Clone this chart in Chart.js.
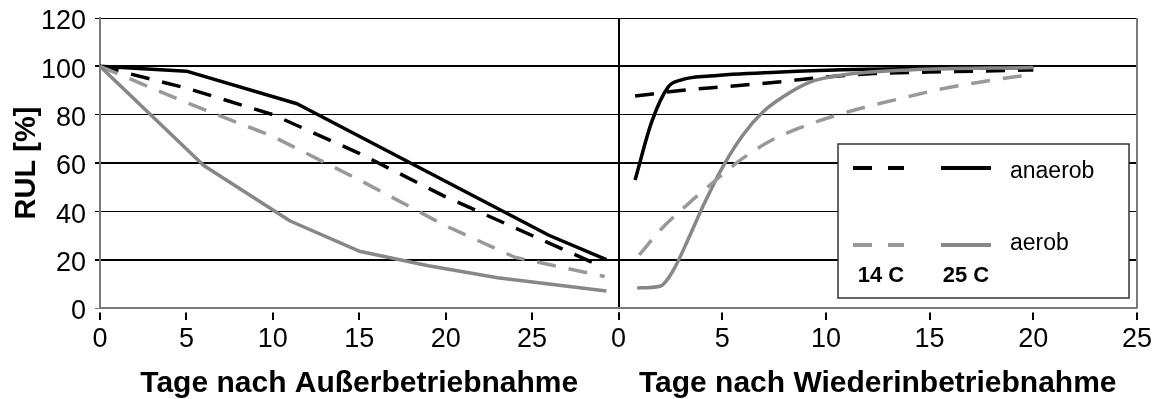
<!DOCTYPE html>
<html><head><meta charset="utf-8">
<script src="https://cdn.jsdelivr.net/npm/chart.js@4.4.1/dist/chart.umd.min.js"></script>
<style>html,body{margin:0;padding:0;background:#fff;overflow:hidden;}</style>
</head><body>
<canvas id="c" width="1152" height="399"></canvas>
<script>
// ---- axis / label data ----
const yRange = [0, 120];
const yStep = 20;
const leftRange = [0, 30];
const rightRange = [0, 25];
const xStep = 5;
const leftTitle = 'Tage nach Außerbetriebnahme';
const rightTitle = 'Tage nach Wiederinbetriebnahme';
const yTitle = 'RUL [%]';
const legendRows = ['anaerob', 'aerob'];
const legendTemps = ['14 C', '25 C'];

// ---- left panel: days after shutdown ----
const anaerob25L_x = [0, 5, 11.4, 26, 29.3];
const anaerob25L_y = [100, 98, 84.5, 30, 20];
const anaerob14L_x = [0, 5, 10, 15, 20, 25, 28.6];
const anaerob14L_y = [100, 91, 80, 64, 46, 30, 18.5];
const aerob14L_x = [0, 5, 10, 15, 20, 24, 29.2];
const aerob14L_y = [100, 85, 71, 53, 34, 21, 13];
const aerob25L_x = [0, 6, 11, 15, 19, 23, 29.3];
const aerob25L_y = [100, 59, 36, 23.5, 17.5, 12.5, 7];

// ---- right panel: days after restart ----
const anaerob25R_x = [0.8, 1.6, 2.4, 3.0, 4.4, 7.6, 12, 20];
const anaerob25R_y = [53, 77, 91.5, 94.3, 96, 97.6, 98.8, 99.5];
const anaerob14R_x = [0.8, 3, 5, 7.7, 9.5, 12.3, 16, 20];
const anaerob14R_y = [87.7, 90, 91.5, 93.5, 95.2, 97, 97.8, 98.5];
const aerob14R_x = [1.0, 2.1, 3.4, 4.7, 6, 7.4, 9.1, 10.8, 12.3, 13.9, 15.5, 17.1, 18.7, 20];
const aerob14R_y = [22, 33, 43.4, 53, 62, 69.5, 75.7, 80.5, 84, 87.3, 90.5, 93, 95.2, 96.5];
const aerob25R_x = [0.9, 2, 2.6, 3.3, 4.1, 5, 6, 6.95, 7.9, 9.2, 10.8, 14, 20];
const aerob25R_y = [8.3, 9, 15, 27.3, 42.6, 58, 71.6, 81, 87.2, 93.4, 96.4, 98.5, 99.5];

const BLACK = '#000000';
const GRAY_SOLID = '#878787';
const GRAY_DASH = '#999999';
const DASH = [19, 13];

function pts(xs, ys) { return xs.map((x, i) => ({x: x, y: ys[i]})); }
function ds(xs, ys, axis, color, dashed, smooth) {
  return {
    data: pts(xs, ys), xAxisID: axis, yAxisID: 'y',
    borderColor: color, borderWidth: 3.5, borderDash: dashed ? DASH : [],
    pointRadius: 0, showLine: true, fill: false,
    tension: 0, cubicInterpolationMode: smooth ? 'monotone' : 'default',
    borderCapStyle: 'butt', borderJoinStyle: 'round'
  };
}

const datasets = [
  ds(aerob25L_x, aerob25L_y, 'x1', GRAY_SOLID, false, false),
  ds(aerob14L_x, aerob14L_y, 'x1', GRAY_DASH, true, false),
  ds(anaerob14L_x, anaerob14L_y, 'x1', BLACK, true, false),
  ds(anaerob25L_x, anaerob25L_y, 'x1', BLACK, false, false),
  ds(aerob14R_x, aerob14R_y, 'x2', GRAY_DASH, true, true),
  ds(aerob25R_x, aerob25R_y, 'x2', GRAY_SOLID, false, true),
  ds(anaerob14R_x, anaerob14R_y, 'x2', BLACK, true, true),
  ds(anaerob25R_x, anaerob25R_y, 'x2', BLACK, false, true)
];

const FONT = "'Liberation Sans', Arial, sans-serif";

function xScale(range, title, dividerValue) {
  return {
    type: 'linear', position: 'bottom', stack: 'bottomStack', stackWeight: 1,
    min: range[0], max: range[1],
    ticks: {
      stepSize: xStep, autoSkip: false, maxRotation: 0, color: '#000',
      font: {family: FONT, size: 27}, padding: 3,
      callback: (v) => (dividerValue !== null && v === dividerValue) ? '' : String(v)
    },
    grid: {
      drawOnChartArea: true,
      color: (c) => (dividerValue !== null && c.tick && c.tick.value === dividerValue) ? '#000' : 'rgba(0,0,0,0)',
      lineWidth: 2, tickColor: '#000', tickWidth: 2, tickLength: 12,
      tickBorderDash: [0, 4, 100]
    },
    border: {display: true, color: '#7a7a7a', width: 1.5},
    title: {display: true, text: title, color: '#000',
      font: {family: FONT, size: 30, weight: 'bold', lineHeight: 1}, padding: {top: 0, bottom: 0}},
    afterFit: (s) => { s.height = 91; s.paddingLeft = 0; s.paddingRight = 0; }
  };
}

const framePlugin = {
  id: 'frame',
  beforeDatasetsDraw(chart) {
    const {ctx, chartArea: a} = chart;
    ctx.save();
    ctx.strokeStyle = '#7a7a7a';
    ctx.lineWidth = 2;
    ctx.beginPath();
    ctx.moveTo(a.right, a.top);
    ctx.lineTo(a.right, a.bottom);
    ctx.stroke();
    ctx.restore();
  }
};

const legendPlugin = {
  id: 'customLegend',
  afterDatasetsDraw(chart) {
    const {ctx, chartArea: a} = chart;
    const w = 291, h = 154;
    const right = a.right - 8, bottom = a.bottom - 10;
    const left = right - w, top = bottom - h;
    ctx.save();
    ctx.fillStyle = '#fff';
    ctx.fillRect(left, top, w, h);
    ctx.strokeStyle = '#333';
    ctx.lineWidth = 1.5;
    ctx.strokeRect(left, top, w, h);
    const rows = [
      {label: legendRows[0], dash: BLACK, solid: BLACK, lineY: top + 24, textY: top + 34},
      {label: legendRows[1], dash: GRAY_DASH, solid: GRAY_SOLID, lineY: top + 101, textY: top + 106}
    ];
    ctx.lineWidth = 4;
    ctx.lineCap = 'butt';
    rows.forEach(r => {
      ctx.strokeStyle = r.dash;
      ctx.setLineDash([19, 16]);
      ctx.beginPath(); ctx.moveTo(left + 15, r.lineY); ctx.lineTo(left + 66, r.lineY); ctx.stroke();
      ctx.setLineDash([]);
      ctx.strokeStyle = r.solid;
      ctx.beginPath(); ctx.moveTo(left + 103, r.lineY); ctx.lineTo(left + 153, r.lineY); ctx.stroke();
      ctx.fillStyle = '#000';
      ctx.font = '23px ' + FONT;
      ctx.textAlign = 'left';
      ctx.textBaseline = 'alphabetic';
      ctx.fillText(r.label, left + 172, r.textY);
    });
    ctx.font = 'bold 22px ' + FONT;
    ctx.textAlign = 'center';
    ctx.fillStyle = '#000';
    ctx.fillText(legendTemps[0], left + 43, top + 138);
    ctx.fillText(legendTemps[1], left + 128, top + 138);
    ctx.restore();
  }
};

new Chart(document.getElementById('c'), {
  type: 'scatter',
  data: {datasets: datasets},
  options: {
    responsive: false, animation: false, devicePixelRatio: 1,
    layout: {padding: {left: 0, right: 15, top: 18, bottom: 0}},
    plugins: {legend: {display: false}, tooltip: {enabled: false}},
    scales: {
      x1: xScale(leftRange, leftTitle, leftRange[1]),
      x2: xScale(rightRange, rightTitle, null),
      y: {
        type: 'linear', position: 'left', min: yRange[0], max: yRange[1],
        ticks: {stepSize: yStep, color: '#000', font: {family: FONT, size: 27}, padding: 9, labelOffset: 4},
        grid: {
          color: (c) => (c.tick && c.tick.value === 0) ? '#7a7a7a' : '#000',
          lineWidth: (c) => {
            const v = c.tick ? c.tick.value : 0;
            return (v === 20 || v === 60 || v === 100) ? 2 : 1;
          },
          tickLength: 5
        },
        border: {display: true, color: '#7a7a7a', width: 2},
        title: {display: true, text: yTitle, color: '#000',
          font: {family: FONT, size: 29, weight: 'bold', lineHeight: 1}, padding: {top: 12, bottom: 0}},
        afterFit: (s) => { s.width = 100; s.paddingTop = 0; s.paddingBottom = 0; }
      }
    }
  },
  plugins: [framePlugin, legendPlugin]
});
</script>
</body></html>
